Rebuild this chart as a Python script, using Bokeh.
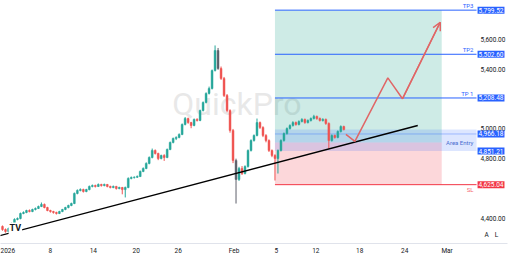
from bokeh.plotting import figure
from bokeh.models import Range1d, FixedTicker, NumeralTickFormatter, Label, Arrow, OpenHead, ColumnDataSource
from bokeh.embed import file_html
from bokeh.resources import INLINE

# ---------------- data ----------------
first_open = 4344
closes = [4323, 4310, 4330, 4364, 4391, 4397, 4431, 4438, 4451, 4444,
          4458, 4465, 4478, 4492, 4471, 4451, 4444, 4438, 4431, 4444,
          4458, 4471, 4485, 4498, 4566, 4586, 4592, 4579, 4592, 4613,
          4619, 4613, 4626, 4619, 4626, 4613, 4606, 4613, 4599, 4606,
          4592, 4606, 4667, 4673, 4675, 4680, 4714, 4734, 4768, 4808,
          4855, 4835, 4801, 4821, 4808, 4862, 4909, 4936, 4943, 4963,
          5030, 5070, 5043, 5023, 5064, 5057, 5124, 5178, 5239, 5272,
          5393, 5528, 5407, 5340, 5225, 5124, 4990, 4788, 4660, 4734,
          4700, 4747, 4855, 4922, 4956, 5043, 5010, 4956, 4922, 4855,
          4821, 4801, 4855, 4922, 4969, 5003, 5023, 5043, 5030, 5050,
          5064, 5043, 5057, 5070, 5084, 5070, 5057, 5064, 5037, 4922,
          4956, 4943, 4983, 5016, 4996]
highs = [4350, 4330, 4336, 4370, 4398, 4404, 4437, 4445, 4456, 4458,
         4463, 4471, 4484, 4505, 4498, 4476, 4456, 4449, 4443, 4449,
         4462, 4476, 4490, 4504, 4572, 4593, 4600, 4598, 4597, 4619,
         4626, 4625, 4633, 4631, 4632, 4630, 4618, 4619, 4617, 4611,
         4610, 4612, 4674, 4680, 4681, 4687, 4720, 4741, 4775, 4815,
         4868, 4862, 4840, 4827, 4830, 4868, 4915, 4942, 4950, 4970,
         5037, 5080, 5076, 5048, 5070, 5072, 5130, 5185, 5246, 5285,
         5400, 5562, 5545, 5420, 5350, 5235, 5132, 5000, 4800, 4745,
         4750, 4755, 4862, 4930, 4963, 5070, 5050, 5018, 4965, 4930,
         4862, 4830, 4862, 4930, 4976, 5010, 5031, 5052, 5050, 5058,
         5072, 5070, 5064, 5077, 5095, 5090, 5077, 5072, 5070, 5044,
         4963, 4962, 4990, 5024, 5022]
lows = [4315, 4302, 4305, 4326, 4360, 4385, 4392, 4426, 4433, 4439,
        4440, 4452, 4461, 4474, 4466, 4446, 4437, 4430, 4424, 4427,
        4440, 4453, 4466, 4480, 4494, 4560, 4580, 4572, 4574, 4587,
        4607, 4606, 4609, 4612, 4614, 4607, 4600, 4601, 4592, 4594,
        4560, 4539, 4601, 4661, 4666, 4670, 4676, 4709, 4729, 4762,
        4802, 4828, 4790, 4795, 4785, 4803, 4857, 4903, 4925, 4937,
        4958, 5024, 5035, 5005, 5018, 5050, 5052, 5118, 5172, 5232,
        5266, 5387, 5398, 5330, 5215, 5112, 4975, 4770, 4498, 4650,
        4690, 4694, 4740, 4848, 4915, 4950, 5000, 4945, 4910, 4845,
        4810, 4653, 4700, 4848, 4915, 4962, 4996, 5016, 5022, 5024,
        5044, 5035, 5037, 5050, 5064, 5062, 5050, 5050, 5028, 4868,
        4915, 4935, 4937, 4976, 4990]
dark_candles = [72, 78]

x_tick_pos = [1.5, 16, 30.33, 44.67, 58.67, 77.33, 91.5, 104.67, 119.33, 134.33, 148.5]
x_tick_labels = ["2026", "8", "14", "20", "26", "Feb", "5", "12", "18", "24", "Mar"]
price_ticks = [4400, 4800, 5000, 5400, 5600]

tp_levels = [5799.52, 5502.60, 5208.48]
tp_names = ["TP3", "TP2", "TP 1"]
entry_high = 4966.18
entry_low = 4851.21
entry_area_top = 4996
entry_mid = 4908.70
stop_loss = 4625.04

trend_x = [-1.0, 138.7]
trend_y = [4281, 5023]

path_x = [114.7, 117.7, 128.7, 133.6, 146.2]
path_y = [4963, 4916, 5344, 5203, 5718]

box_left, box_right, line_right = 91, 146.7, 158.33

# ---------------- figure ----------------
FONT = "Roboto"
p = figure(width=508, height=257, output_backend="svg", toolbar_location=None,
           x_range=Range1d(-2 / 3, 168.67), y_range=Range1d(4229, 5864.5),
           y_axis_location="right")
p.min_border_left = 0
p.min_border_top = 0
p.min_border_right = 0
p.min_border_bottom = 14
p.outline_line_color = None
p.grid.visible = False
p.background_fill_color = "white"
p.border_fill_color = "white"

xa = p.xaxis[0]
xa.ticker = FixedTicker(ticks=x_tick_pos)
xa.major_label_overrides = dict(zip(x_tick_pos, x_tick_labels))
xa.major_tick_in = 0
xa.major_tick_out = 0
xa.minor_tick_in = 0
xa.minor_tick_out = 0
xa.axis_line_color = "#e0e3eb"
xa.major_label_text_font = FONT
xa.major_label_text_font_size = "6.5px"
xa.major_label_text_color = "#131722"
xa.major_label_standoff = 3

ya = p.yaxis[0]
ya.ticker = FixedTicker(ticks=price_ticks)
ya.formatter = NumeralTickFormatter(format="0,0.00")
ya.major_tick_in = 0
ya.major_tick_out = 0
ya.minor_tick_in = 0
ya.minor_tick_out = 0
ya.axis_line_color = None
ya.major_label_text_font = FONT
ya.major_label_text_font_size = "6.5px"
ya.major_label_text_color = "#131722"
ya.major_label_standoff = -27

# watermark
p.add_layout(Label(x=78.3, y=5171, text="QuickPro", text_font=FONT, text_font_size="32px",
                   text_color="#d9d9d9", text_alpha=0.6, text_align="center",
                   text_baseline="middle", level="underlay"))

# position boxes
p.quad(left=box_left, right=box_right, bottom=entry_mid, top=tp_levels[0],
       fill_color="#089981", fill_alpha=0.2, line_color=None)
p.quad(left=box_left, right=box_right, bottom=stop_loss, top=entry_mid,
       fill_color="#f23645", fill_alpha=0.2, line_color=None)
p.quad(left=box_left, right=line_right, bottom=entry_low, top=entry_area_top,
       fill_color="#2962ff", fill_alpha=0.16, line_color=None)
p.segment(x0=box_left, x1=line_right, y0=entry_high, y1=entry_high,
          line_color="#2962ff", line_alpha=0.35, line_width=1)

for lv in tp_levels:
    p.segment(x0=box_left, x1=line_right, y0=lv, y1=lv, line_color="#2962ff", line_width=1)
p.segment(x0=box_left, x1=line_right, y0=stop_loss, y1=stop_loss,
          line_color="#f23645", line_width=1)

# candles
opens = [first_open] + closes[:-1]
xs = list(range(len(closes)))
colors = []
for i in xs:
    if i in dark_candles:
        colors.append("#5d606b")
    elif closes[i] >= opens[i]:
        colors.append("#26a69a")
    else:
        colors.append("#ef5350")
src = ColumnDataSource(dict(
    x=xs, high=highs, low=lows,
    top=[max(o, c) for o, c in zip(opens, closes)],
    bottom=[min(o, c) for o, c in zip(opens, closes)],
    color=colors))
p.segment(x0="x", x1="x", y0="low", y1="high", line_color="color", line_width=1, source=src)
p.vbar(x="x", width=0.62, top="top", bottom="bottom", fill_color="color",
       line_color="color", line_width=0.5, source=src)

# trend line
p.line(trend_x, trend_y, line_color="#000000", line_width=1.4)

# projected path
p.line(path_x, path_y, line_color="#e06666", line_width=1.5)
p.add_layout(Arrow(end=OpenHead(size=8, line_color="#e06666", line_width=1.5),
                   x_start=path_x[-2], y_start=path_y[-2], x_end=path_x[-1], y_end=path_y[-1],
                   line_color="#e06666", line_width=1.5))

# level texts inside the pane
for lv, nm in zip(tp_levels, tp_names):
    p.add_layout(Label(x=157.3, y=lv, text=nm, text_font=FONT, text_font_size="6px",
                       text_color="#2962ff", text_align="right", text_baseline="bottom",
                       y_offset=1))
p.add_layout(Label(x=157.3, y=entry_mid, text="Area Entry", text_font=FONT, text_font_size="6px",
                   text_color="#4a6fd0", text_align="right", text_baseline="middle"))
p.add_layout(Label(x=157.3, y=stop_loss, text="SL", text_font=FONT, text_font_size="6px",
                   text_color="#f23645", text_alpha=0.8, text_align="right", text_baseline="top",
                   y_offset=-1))

# price tags on the scale
tags = [(v, "#2962ff") for v in tp_levels] + [(entry_high, "#2962ff"), (entry_low, "#2962ff"),
                                              (stop_loss, "#f23645")]
for v, col in tags:
    p.add_layout(Label(x=158.67, y=v, text=f"{v:,.2f}", text_font=FONT, text_font_size="6.5px",
                       text_color="white", text_align="left", text_baseline="middle",
                       text_line_height=1.0, background_fill_color=col, padding=1))

# logo and scale buttons
p.add_layout(Label(x=4.3, y=4330, text="TV", text_font=FONT, text_font_size="9px",
                   text_font_style="bold", text_color="#131722", text_align="center",
                   text_baseline="middle", background_fill_color="white", padding=1))
p.add_layout(Label(x=161.7, y=4283, text="A", text_font=FONT, text_font_size="6.5px",
                   text_color="#131722", text_align="center", text_baseline="middle"))
p.add_layout(Label(x=165.0, y=4283, text="L", text_font=FONT, text_font_size="6.5px",
                   text_color="#131722", text_align="center", text_baseline="middle"))

open("out.html", "w").write(file_html(p, INLINE))
